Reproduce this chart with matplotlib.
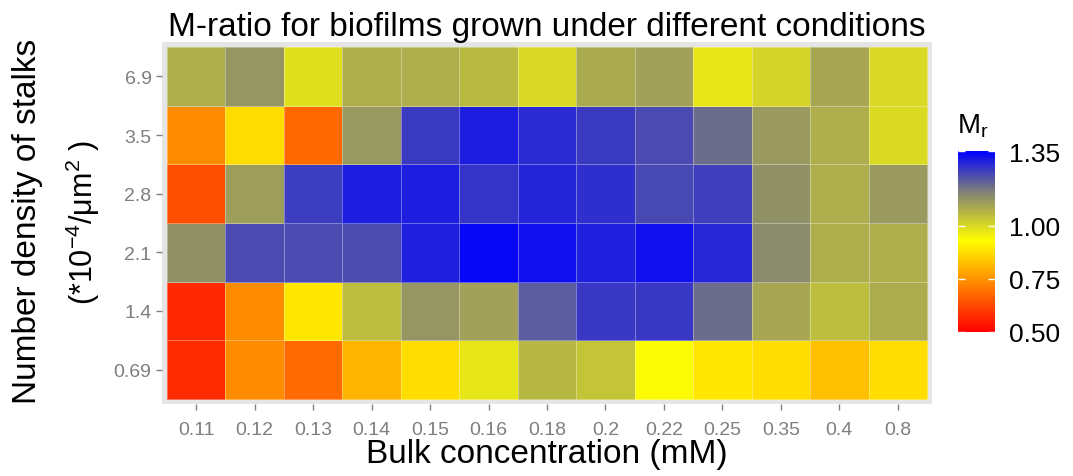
import numpy as np
import matplotlib
matplotlib.use("Agg")
import matplotlib.pyplot as plt
from matplotlib.colors import LinearSegmentedColormap, Normalize

plt.rcParams['font.family'] = ['Liberation Sans', 'DejaVu Sans']
plt.rcParams['mathtext.fontset'] = 'custom'
plt.rcParams['mathtext.rm'] = 'Liberation Sans'
plt.rcParams['mathtext.it'] = 'Liberation Sans:italic'

# bulk concentration (mM), x categories
conc = ['0.11', '0.12', '0.13', '0.14', '0.15', '0.16', '0.18',
        '0.2', '0.22', '0.25', '0.35', '0.4', '0.8']
# stalk density, y categories (bottom to top)
density = ['0.69', '1.4', '2.1', '2.8', '3.5', '6.9']

# M-ratio per density row
mr_069 = [0.574, 0.736, 0.682, 0.804, 0.873, 0.978, 1.06, 1.036, 0.935, 0.891, 0.873, 0.824, 0.873]
mr_14 = [0.567, 0.736, 0.891, 1.05, 1.12, 1.10, 1.213, 1.264, 1.264, 1.19, 1.09, 1.05, 1.08]
mr_21 = [1.13, 1.24, 1.24, 1.234, 1.302, 1.338, 1.326, 1.302, 1.326, 1.293, 1.14, 1.075, 1.075]
mr_28 = [0.635, 1.105, 1.26, 1.306, 1.306, 1.272, 1.296, 1.279, 1.243, 1.255, 1.13, 1.075, 1.113]
mr_35 = [0.736, 0.873, 0.679, 1.115, 1.261, 1.306, 1.284, 1.262, 1.238, 1.19, 1.114, 1.075, 0.997]
mr_69 = [1.075, 1.12, 0.985, 1.075, 1.075, 1.056, 1.0, 1.084, 1.098, 0.977, 1.01, 1.09, 1.0]

cbar_ticks = [0.50, 0.75, 1.00, 1.35]
vmin, vmax = 0.5, 1.35

Z = np.array([mr_069, mr_14, mr_21, mr_28, mr_35, mr_69])

# red -> yellow -> grey -> blue
def pos(v):
    return (v - vmin) / (vmax - vmin)

cmap = LinearSegmentedColormap.from_list('mr', [
    (0.0, '#FF0000'),
    (pos(0.93), '#FFFF00'),
    (pos(1.16), '#808078'),
    (1.0, '#0000FF'),
])
norm = Normalize(vmin=vmin, vmax=vmax)

fig = plt.figure(figsize=(10.73, 4.77), dpi=100)
ax = fig.add_axes([162/1073, 1 - 405/477, 770/1073, 362/477])
ax.set_facecolor('#E5E5E5')

xe = np.arange(len(conc) + 1) - 0.5
ye = np.arange(len(density) + 1) - 0.5
ax.pcolormesh(xe, ye, Z, cmap=cmap, norm=norm,
              edgecolors=(1, 1, 1, 0.35), linewidth=0.6)

m = 0.0855
ax.set_xlim(-0.5 - m, len(conc) - 0.5 + m)
ax.set_ylim(-0.5 - m, len(density) - 0.5 + m)
ax.set_xticks(range(len(conc)))
ax.set_xticklabels(conc)
ax.set_yticks(range(len(density)))
ax.set_yticklabels(density)
ax.tick_params(colors='#7F7F7F', labelsize=14, length=4, width=1)
ax.tick_params(axis='x', pad=8)
for s in ax.spines.values():
    s.set_visible(False)

ax.set_title('M-ratio for biofilms grown under different conditions',
             fontsize=24, pad=5)
ax.set_xlabel('Bulk concentration (mM)', fontsize=24, labelpad=0)
fig.text(28/1073, 1 - 221/477, 'Number density of stalks', rotation=90,
         fontsize=24, ha='center', va='center')
fig.text(83/1073, 1 - 223/477, r'(*10$^{\mathrm{-4}}$/μm$^{2}$ )', rotation=90,
         fontsize=22, ha='center', va='center')

# colourbar
cax = fig.add_axes([958/1073, 1 - 333/477, 37/1073, 181/477])
cb = fig.colorbar(plt.cm.ScalarMappable(norm=norm, cmap=cmap), cax=cax,
                  ticks=cbar_ticks)
cb.outline.set_visible(False)
cb.ax.set_yticklabels(['%.2f' % t for t in cbar_ticks])
cax.tick_params(direction='in', color='white', length=5, width=1,
                left=True, right=True, labelsize=19, pad=10)
fig.text(957/1073, 1 - 134/477, r'M$_\mathrm{r}$', fontsize=20,
         ha='left', va='baseline')

fig.savefig('out.png', dpi=100, facecolor='white')
